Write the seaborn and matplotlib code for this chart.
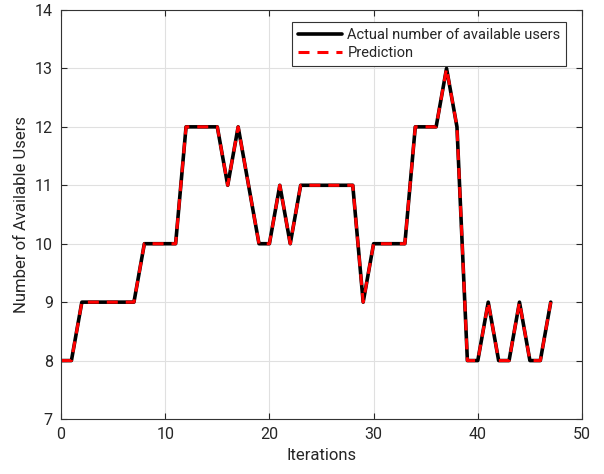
import matplotlib
matplotlib.use("Agg")
import matplotlib.pyplot as plt
import seaborn as sns
import numpy as np
import pandas as pd

iterations = list(range(48))
actual_users = [8, 8, 9, 9, 9, 9, 9, 9, 10, 10, 10, 10, 12, 12, 12, 12, 11, 12, 11, 10,
                10, 11, 10, 11, 11, 11, 11, 11, 11, 9, 10, 10, 10, 10, 12, 12, 12, 13, 12, 8,
                8, 9, 8, 8, 9, 8, 8, 9]
predicted_users = [8, 8, 9, 9, 9, 9, 9, 9, 10, 10, 10, 10, 12, 12, 12, 12, 11, 12, 11, 10,
                   10, 11, 10, 11, 11, 11, 11, 11, 11, 9, 10, 10, 10, 10, 12, 12, 12, 13, 12, 8,
                   8, 9, 8, 8, 9, 8, 8, 9]
x_ticks = [0, 10, 20, 30, 40, 50]
y_ticks = [7, 8, 9, 10, 11, 12, 13, 14]

sns.set_theme(style="white")
plt.rcParams["font.family"] = ["Roboto", "DejaVu Sans"]

df = pd.DataFrame({"Iteration": iterations, "Actual": actual_users, "Prediction": predicted_users})

fig = plt.figure(figsize=(6.04, 4.74), dpi=100)
ax = fig.add_axes([61 / 604, 1 - 419 / 474, (582 - 61) / 604, (419 - 10) / 474])

sns.lineplot(data=df, x="Iteration", y="Actual", ax=ax, color="black", linewidth=2.6,
             label="Actual number of available users")
sns.lineplot(data=df, x="Iteration", y="Prediction", ax=ax, color="red", linewidth=2.2,
             label="Prediction")
ax.lines[1].set_dashes([3.6, 2.6])

ax.set_xlim(0, 50)
ax.set_ylim(7, 14)
ax.set_xticks(x_ticks)
ax.set_yticks(y_ticks)
ax.grid(True, color="#e0e0e0", linewidth=0.8)
ax.set_axisbelow(True)
for s in ax.spines.values():
    s.set_color("#333333")
    s.set_linewidth(0.8)
ax.tick_params(direction="in", length=4, width=0.8, colors="#262626", labelsize=11.5,
               top=True, right=True, bottom=True, left=True, pad=6)
ax.set_xlabel("Iterations", fontsize=12, color="#262626", labelpad=4)
ax.set_ylabel("Number of Available Users", fontsize=12, color="#262626", labelpad=4)

leg = ax.legend(loc="upper right", bbox_to_anchor=(0.97, 0.97), fontsize=10.5,
                frameon=True, fancybox=False, edgecolor="#333333", framealpha=1,
                handlelength=3, borderpad=0.4, labelspacing=0.3, handletextpad=0.4,
                borderaxespad=0)
leg.get_frame().set_linewidth(0.8)

fig.savefig("out.png", dpi=100)
